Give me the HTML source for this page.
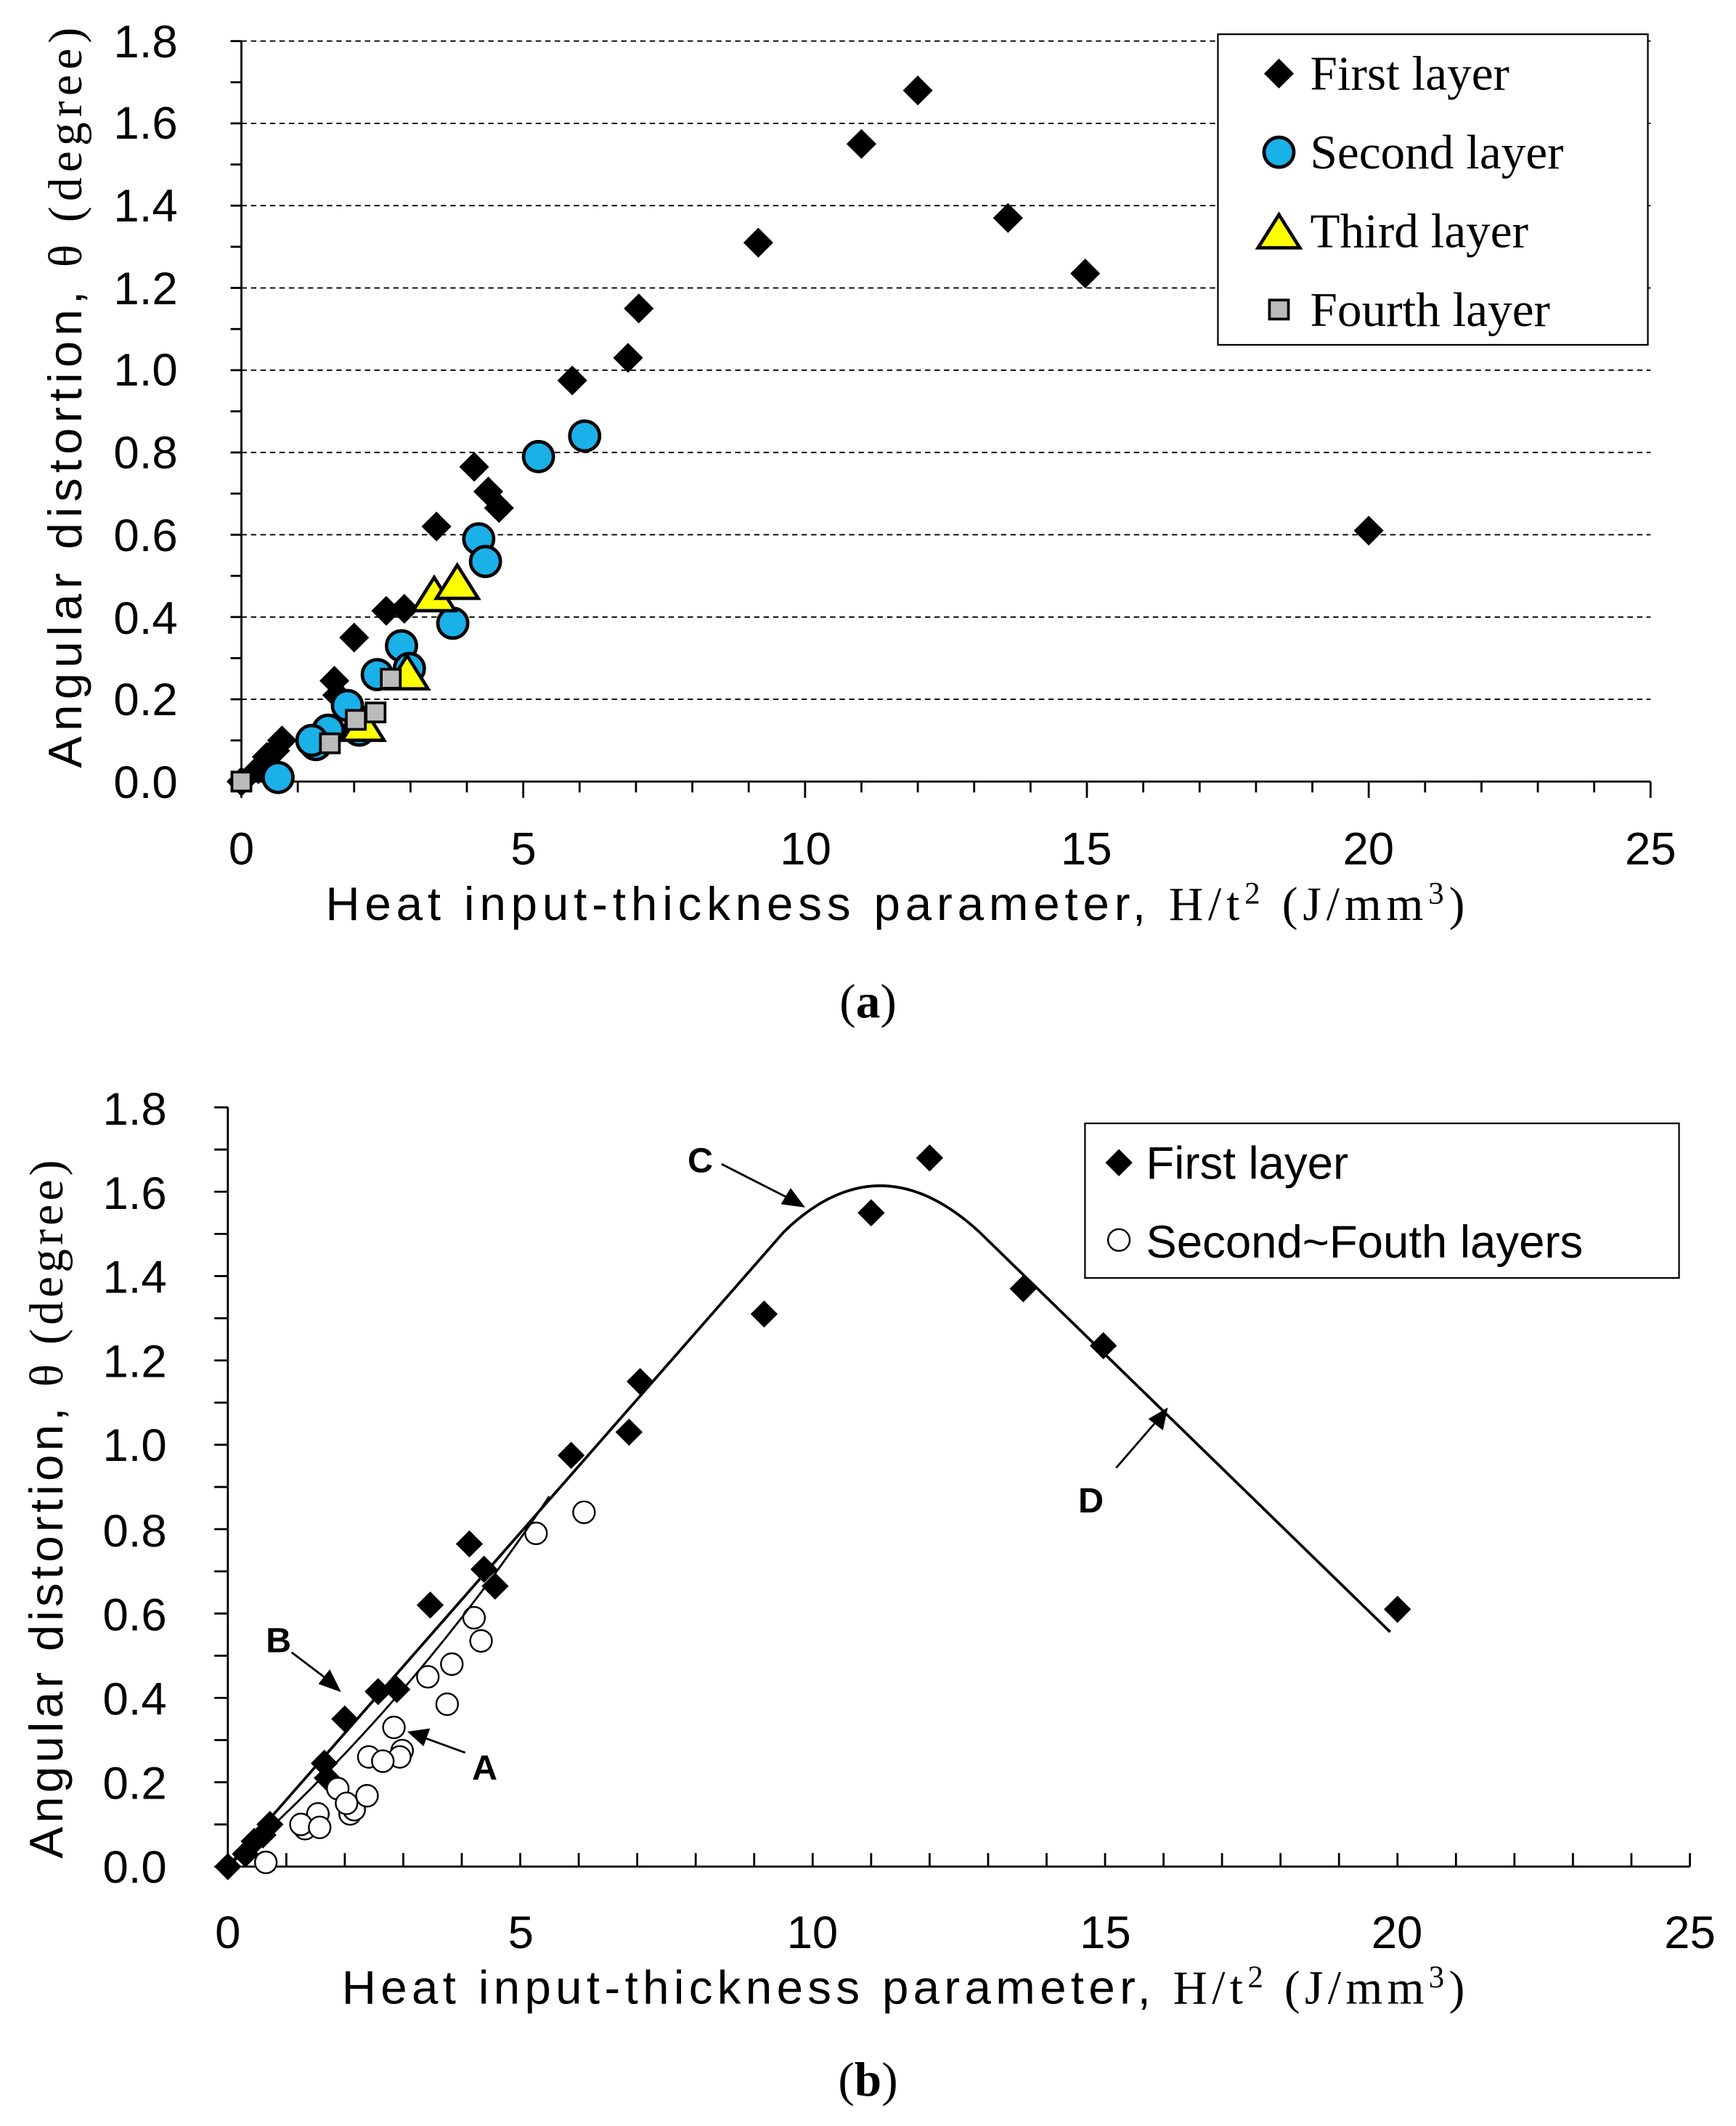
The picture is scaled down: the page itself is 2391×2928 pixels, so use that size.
<!DOCTYPE html>
<html><head><meta charset="utf-8">
<style>
html,body{margin:0;padding:0;background:#fff;}
svg{display:block;}
.t{font-family:"Liberation Sans",sans-serif;fill:#000;}
.s{font-family:"Liberation Serif",serif;fill:#000;}
</style></head>
<body>
<svg id="c" width="2391" height="2928" viewBox="0 0 1280 1567" xmlns="http://www.w3.org/2000/svg">
<rect width="1280" height="1567" fill="#fff"/>
<g id="a"></g>
<g id="b"></g>
<g class="t" font-size="34" text-anchor="end">
<text x="131" y="588">0.0</text><text x="131" y="527">0.2</text><text x="131" y="467">0.4</text>
<text x="131" y="406">0.6</text><text x="131" y="345">0.8</text><text x="131" y="284">1.0</text>
<text x="131" y="224">1.2</text><text x="131" y="163">1.4</text><text x="131" y="102">1.6</text>
<text x="131" y="42">1.8</text>
</g>
<g class="t" font-size="34" text-anchor="middle">
<text x="178" y="637">0</text><text x="386" y="637">5</text><text x="594" y="637">10</text>
<text x="801" y="637">15</text><text x="1009" y="637">20</text><text x="1217" y="637">25</text>
</g>
<text x="240" y="678" class="t" font-size="35" textLength="840" lengthAdjust="spacing">Heat input-thickness parameter, <tspan class="s">H/t<tspan dy="-12" font-size="23">2</tspan><tspan dy="12"> (J/mm</tspan><tspan dy="-12" font-size="23">3</tspan><tspan dy="12">)</tspan></tspan></text>
<text transform="translate(60,566) rotate(-90)" class="t" font-size="35" textLength="546" lengthAdjust="spacing">Angular distortion, <tspan class="s">θ (degree)</tspan></text>
<text x="640" y="750" class="s" font-size="36" text-anchor="middle">(<tspan font-weight="bold">a</tspan>)</text>
<rect x="898" y="25" width="317" height="229" fill="#fff" stroke="#000" stroke-width="1.2"/>
<g class="s" font-size="36">
<text x="966" y="66">First layer</text><text x="966" y="124">Second layer</text>
<text x="966" y="182">Third layer</text><text x="966" y="240">Fourth layer</text>
</g>
<g class="t" font-size="34" text-anchor="end">
<text x="123" y="1388">0.0</text><text x="123" y="1326">0.2</text><text x="123" y="1264">0.4</text>
<text x="123" y="1202">0.6</text><text x="123" y="1140">0.8</text><text x="123" y="1077">1.0</text>
<text x="123" y="1015">1.2</text><text x="123" y="953">1.4</text><text x="123" y="891">1.6</text>
<text x="123" y="829">1.8</text>
</g>
<g class="t" font-size="34" text-anchor="middle">
<text x="168" y="1436">0</text><text x="384" y="1436">5</text><text x="599" y="1436">10</text>
<text x="815" y="1436">15</text><text x="1030" y="1436">20</text><text x="1246" y="1436">25</text>
</g>
<text x="252" y="1477" class="t" font-size="35" textLength="828" lengthAdjust="spacing">Heat input-thickness parameter, <tspan class="s">H/t<tspan dy="-12" font-size="23">2</tspan><tspan dy="12"> (J/mm</tspan><tspan dy="-12" font-size="23">3</tspan><tspan dy="12">)</tspan></tspan></text>
<text transform="translate(46,1370) rotate(-90)" class="t" font-size="35" textLength="515" lengthAdjust="spacing">Angular distortion, <tspan class="s">θ (degree)</tspan></text>
<text x="640" y="1545" class="s" font-size="36" text-anchor="middle">(<tspan font-weight="bold">b</tspan>)</text>
<rect x="800" y="828" width="438" height="114" fill="#fff" stroke="#000" stroke-width="1.2"/>
<g class="t" font-size="34">
<text x="845" y="869">First layer</text><text x="845" y="927">Second~Fouth layers</text>
</g>
<g class="t" font-size="26" font-weight="bold">
<text x="507" y="864">C</text><text x="196" y="1218">B</text><text x="348" y="1312">A</text><text x="795" y="1115">D</text>
</g>
<path d="M168,1376 L578,908 Q648,840 722,908 L1025,1203" fill="none" stroke="#000" stroke-width="2"/>
<path d="M168,1376 Q300,1260 405,1103" fill="none" stroke="#000" stroke-width="1.5"/>
<g stroke="#000" stroke-width="1.5" fill="#000">
<line x1="532" y1="858" x2="585" y2="885"/><polygon points="592,889 577,887 583,877"/>
<line x1="215" y1="1218" x2="244" y2="1240"/><polygon points="250,1246 236,1241 243,1232"/>
<line x1="343" y1="1292" x2="310" y2="1280"/><polygon points="302,1277 316,1275 312,1286"/>
<line x1="823" y1="1082" x2="855" y2="1045"/><polygon points="860,1039 857,1053 848,1046"/>
</g>
<g id="leg"></g>
</svg>
<script>
var NS="http://www.w3.org/2000/svg";
function el(p,t,a){var e=document.createElementNS(NS,t);for(var k in a)e.setAttribute(k,a[k]);p.appendChild(e);return e;}
var first=[[0,0],[0.3,0.03],[0.45,0.06],[0.6,0.075],[0.72,0.1],[1.65,0.245],[2.0,0.35],[2.57,0.415],[2.89,0.42],[3.46,0.62],[4.13,0.765],[4.38,0.705],[4.57,0.665],[5.87,0.975],[6.86,1.03],[7.05,1.15],[9.17,1.31],[11.0,1.55],[12.0,1.68],[13.6,1.37],[14.97,1.235],[20.0,0.61],[1.7,0.21]];
var second=[[0.65,0.01],[1.32,0.09],[1.54,0.125],[1.88,0.185],[2.09,0.125],[2.41,0.26],[2.84,0.33],[2.98,0.275],[3.75,0.385],[4.21,0.59],[4.33,0.535],[5.27,0.79],[6.09,0.84],[1.25,0.1]];
var third=[[2.16,0.135],[2.94,0.26],[3.42,0.45],[3.83,0.48]];
var fourth=[[0,0],[1.57,0.093],[2.03,0.15],[2.38,0.168],[2.65,0.25]];
var A=document.getElementById('a');
var ax=function(x){return 178+x*41.56},ay=function(y){return 576-y*303.3};
for(var i=1;i<=9;i++){var y=ay(i*0.2);el(A,'line',{x1:178,y1:y,x2:1217,y2:y,stroke:'#000','stroke-width':1,'stroke-dasharray':'4,3'});}
el(A,'line',{x1:178,y1:30,x2:178,y2:576,stroke:'#000','stroke-width':1.5});
el(A,'line',{x1:178,y1:576,x2:1217,y2:576,stroke:'#000','stroke-width':1.5});
for(var i=0;i<=18;i++){var y=ay(i*0.1);el(A,'line',{x1:170,y1:y,x2:178,y2:y,stroke:'#000','stroke-width':1.5});}
for(var i=0;i<=25;i++){var x=ax(i);el(A,'line',{x1:x,y1:576,x2:x,y2:i%5==0?588:584,stroke:'#000','stroke-width':1.5});}
function dia(g,x,y,r){el(g,'polygon',{points:(x)+','+(y-r)+' '+(x+r)+','+y+' '+x+','+(y+r)+' '+(x-r)+','+y,fill:'#000'});}
function circ(g,x,y,r,f,sw){el(g,'circle',{cx:x,cy:y,r:r,fill:f,stroke:'#000','stroke-width':sw});}
function tri(g,x,y,r){el(g,'polygon',{points:x+','+(y-r)+' '+(x+r*1.1)+','+(y+r*0.75)+' '+(x-r*1.1)+','+(y+r*0.75),fill:'#ffff00',stroke:'#000','stroke-width':2.5});}
function sq(g,x,y,r){el(g,'rect',{x:x-r,y:y-r,width:2*r,height:2*r,fill:'#bbb',stroke:'#000','stroke-width':2});}
first.forEach(function(p){dia(A,ax(p[0]),ay(p[1]),11);});
second.forEach(function(p){circ(A,ax(p[0]),ay(p[1]),11,'#1ab0e8',2.5);});
third.forEach(function(p){tri(A,ax(p[0]),ay(p[1]),14);});
fourth.forEach(function(p){sq(A,ax(p[0]),ay(p[1]),7);});
var L=document.getElementById('leg');
dia(L,943,54,11);circ(L,943,112,11,'#1ab0e8',2.5);tri(L,943,172,14);sq(L,943,228,7);
var B=document.getElementById('b');
var bx=function(x){return 168+x*43.12},by=function(y){return 1376-y*311};
el(B,'line',{x1:168,y1:816,x2:168,y2:1376,stroke:'#000','stroke-width':1.5});
el(B,'line',{x1:168,y1:1376,x2:1246,y2:1376,stroke:'#000','stroke-width':1.5});
for(var i=0;i<=18;i++){var y=by(i*0.1);el(B,'line',{x1:158,y1:y,x2:168,y2:y,stroke:'#000','stroke-width':1.5});}
for(var i=0;i<=25;i++){var x=bx(i);el(B,'line',{x1:x,y1:1366,x2:x,y2:1376,stroke:'#000','stroke-width':1.5});}
first.forEach(function(p){dia(B,bx(p[0]),by(p[1]),10);});
second.concat(third).concat(fourth.slice(1)).forEach(function(p){circ(B,bx(p[0]),by(p[1]),8,'#fff',1.3);});
dia(L,825,857,10);circ(L,825,914,8,'#fff',1.3);
</script>
</body></html>
